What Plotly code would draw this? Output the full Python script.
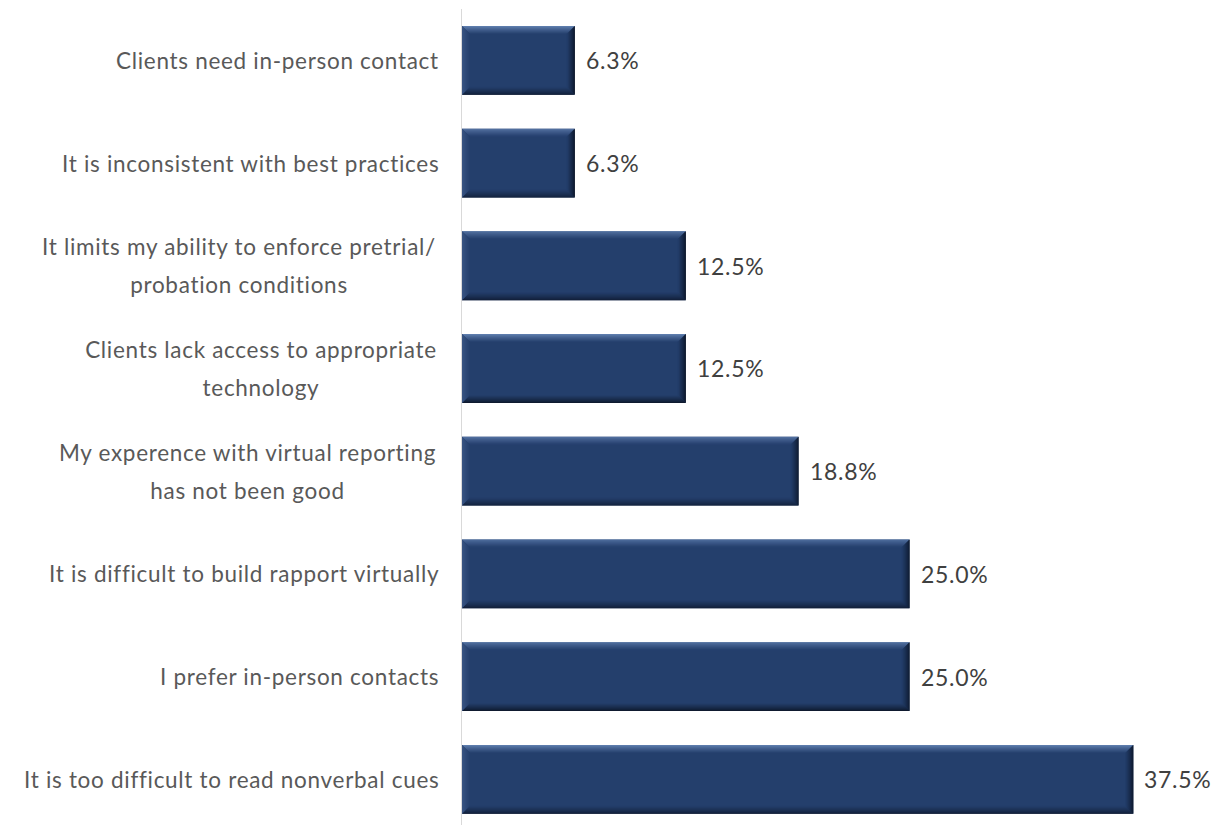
import plotly.graph_objects as go

# Survey responses: reasons against virtual reporting (top to bottom)
categories = [
    "Clients need in-person contact",
    "It is inconsistent with best practices",
    "It limits my ability to enforce pretrial/<br>probation conditions",
    "Clients lack access to appropriate<br>technology",
    "My experence with virtual reporting<br>has not been good",
    "It is difficult to build rapport virtually",
    "I prefer in-person contacts",
    "It is too difficult to read nonverbal cues",
]
percent = [6.3, 6.3, 12.5, 12.5, 18.8, 25.0, 25.0, 37.5]
value_labels = ["6.3%", "6.3%", "12.5%", "12.5%", "18.8%", "25.0%", "25.0%", "37.5%"]

W, H = 1230, 825
M_L, M_R, M_T, M_B = 462, 0, 9, 0
PLOT_W = W - M_L - M_R
PLOT_H = H - M_T - M_B
X_MAX = 42.9
Y_RANGE = [7.445, -0.5]
BAR_W = 0.67

FONT = "Lato, Carlito, sans-serif"
CAT_SIZE = 22.5
VAL_SIZE = 23
TRACKING = "0.7px"        # extra letter spacing for all text
LINE_GAP_PX = 38          # distance between the two lines of a wrapped label
LABEL_PAD_PX = 21         # gap between category text and the axis line
# text-box width used to centre the lines of wrapped labels
WRAP_BOX_PX = {2: 400, 3: 356, 4: 383}

xpp = X_MAX / PLOT_W                       # data units per pixel (x)
ypp = abs(Y_RANGE[0] - Y_RANGE[1]) / PLOT_H  # data units per pixel (y)

MAIN = (36, 63, 108)
EDGES = {
    "top": (100, 132, 180),
    "bottom": (12, 22, 40),
    "right": (6, 12, 24),
    "left": (58, 86, 132),
}
N_STRIPS = 8
STRIP_PX = 1.0

ypos = list(range(len(categories)))

fig = go.Figure()
fig.add_trace(go.Bar(
    x=percent, y=ypos, orientation="h", width=BAR_W,
    marker=dict(color="rgb(%d,%d,%d)" % MAIN, line=dict(width=0)),
    hoverinfo="skip",
))


def mix(c1, c2, t):
    return "rgb(%d,%d,%d)" % tuple(round(a + (b - a) * t) for a, b in zip(c1, c2))


def tracked(s):
    return '<span style="letter-spacing:%s">%s</span>' % (TRACKING, s)


def bevel_shapes(v, yc):
    shapes = []
    x0, x1 = 0.0, v
    t, b = yc - BAR_W / 2, yc + BAR_W / 2   # top / bottom in data (reversed axis)
    for k in range(N_STRIPS):
        o, i = k * STRIP_PX, (k + 1) * STRIP_PX
        frac = (k + 0.5) / N_STRIPS
        quads = {
            "top": [(x0 + o * xpp, t + o * ypp), (x1 - o * xpp, t + o * ypp),
                    (x1 - i * xpp, t + i * ypp), (x0 + i * xpp, t + i * ypp)],
            "bottom": [(x0 + o * xpp, b - o * ypp), (x1 - o * xpp, b - o * ypp),
                       (x1 - i * xpp, b - i * ypp), (x0 + i * xpp, b - i * ypp)],
            "left": [(x0 + o * xpp, t + o * ypp), (x0 + i * xpp, t + i * ypp),
                     (x0 + i * xpp, b - i * ypp), (x0 + o * xpp, b - o * ypp)],
            "right": [(x1 - o * xpp, t + o * ypp), (x1 - i * xpp, t + i * ypp),
                      (x1 - i * xpp, b - i * ypp), (x1 - o * xpp, b - o * ypp)],
        }
        for side, pts in quads.items():
            path = "M " + " L ".join("%.5f,%.5f" % p for p in pts) + " Z"
            shapes.append(dict(
                type="path", path=path, xref="x", yref="y",
                fillcolor=mix(EDGES[side], MAIN, frac ** 0.8),
                line=dict(width=0), layer="above",
            ))
    return shapes


shapes = []
for v, yc in zip(percent, ypos):
    shapes += bevel_shapes(v, yc)

cat_font = dict(family=FONT, size=CAT_SIZE, color="#595959")
annotations = []
for idx, (cat, yc) in enumerate(zip(categories, ypos)):
    lines = cat.split("<br>")
    if len(lines) == 1:
        annotations.append(dict(
            x=0, y=yc, xref="x", yref="y", text=tracked(cat), showarrow=False,
            xanchor="right", yanchor="middle", xshift=-LABEL_PAD_PX,
            font=cat_font,
        ))
    else:
        n = len(lines)
        for j, line in enumerate(lines):
            annotations.append(dict(
                x=0, y=yc, xref="x", yref="y", text=tracked(line), showarrow=False,
                xanchor="right", yanchor="middle", align="center",
                width=WRAP_BOX_PX[idx], xshift=-LABEL_PAD_PX,
                yshift=((n - 1) / 2 - j) * LINE_GAP_PX,
                font=cat_font,
            ))
for v, lab, yc in zip(percent, value_labels, ypos):
    annotations.append(dict(
        x=v, y=yc, xref="x", yref="y", text=tracked(lab), showarrow=False,
        xanchor="left", yanchor="middle", xshift=9,
        font=dict(family=FONT, size=VAL_SIZE, color="#404040"),
    ))

fig.update_layout(
    width=W, height=H,
    margin=dict(l=M_L, r=M_R, t=M_T, b=M_B),
    paper_bgcolor="white", plot_bgcolor="white",
    showlegend=False,
    shapes=shapes, annotations=annotations,
    xaxis=dict(range=[0, X_MAX], visible=False, fixedrange=True),
    yaxis=dict(range=Y_RANGE, showticklabels=False, showgrid=False, zeroline=False,
               showline=True, linecolor="#D9D9D9", linewidth=1, ticks="",
               fixedrange=True),
)

fig.write_html("out.html")
